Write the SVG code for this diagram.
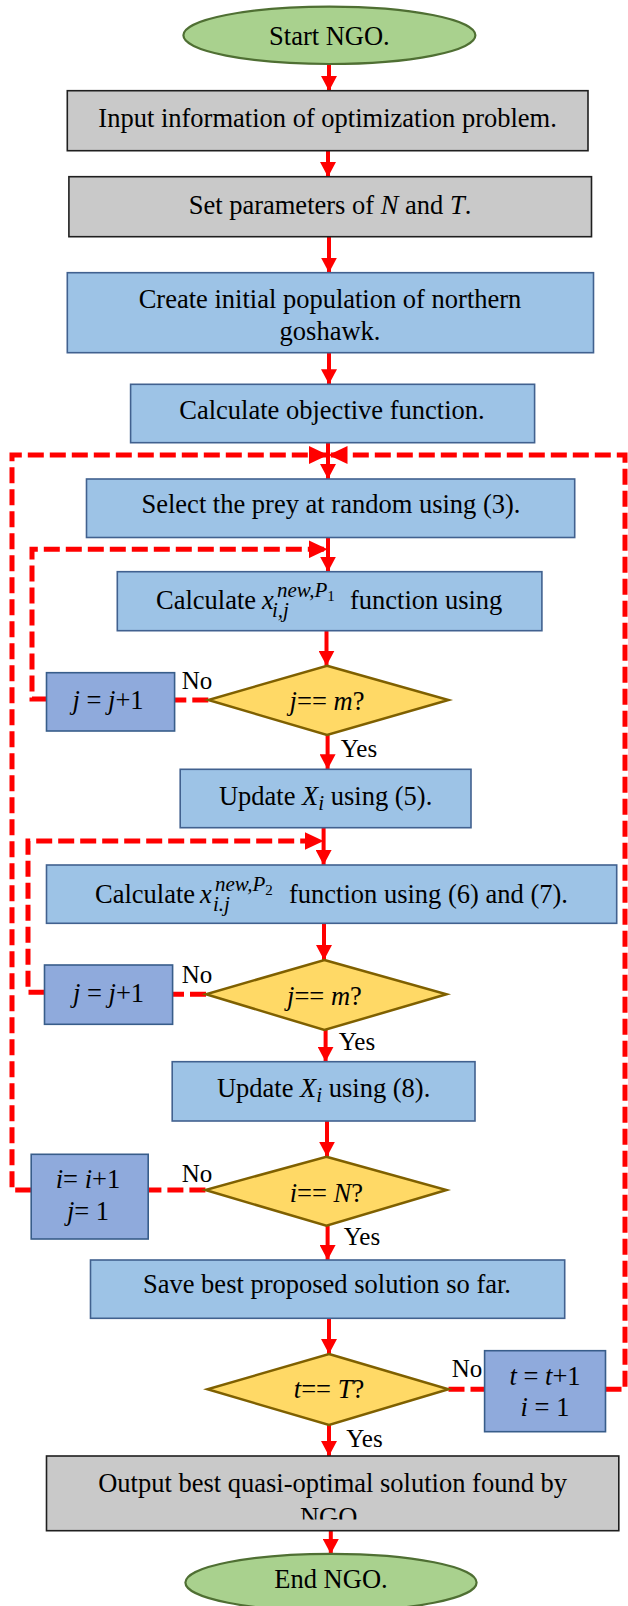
<svg xmlns="http://www.w3.org/2000/svg" width="628" height="1606" viewBox="0 0 628 1606">
<style>
text{font-family:"Liberation Serif","Times New Roman",serif;font-size:26.5px;fill:#000;text-anchor:middle}
.l{text-anchor:start}
.it{font-style:italic}
.sm{font-size:21px}
.lab{font-size:25px}
.gray{fill:#c9c9c9;stroke:#1f1f1f;stroke-width:1.6}
.blue{fill:#9dc3e6;stroke:#41618f;stroke-width:1.6}
.cnt{fill:#8faadc;stroke:#385d8a;stroke-width:1.6}
.dia{fill:#ffd966;stroke:#7f6000;stroke-width:2.5}
.ell{fill:#a9d18e;stroke:#4f6f33;stroke-width:2.2}
.s{fill:none;stroke:#ff0000;stroke-width:4}
.d{fill:none;stroke:#ff0000;stroke-width:5;stroke-dasharray:16 6}
</style>
<defs>
<marker id="ah" markerUnits="userSpaceOnUse" markerWidth="16" markerHeight="16" refX="15" refY="8" orient="auto"><path d="M0,0 L15,8 L0,16 z" fill="#ff0000"/></marker>
<marker id="ahd" markerUnits="userSpaceOnUse" markerWidth="20" markerHeight="18" refX="19" refY="9" orient="auto"><path d="M0,0 L19,9 L0,18 z" fill="#ff0000"/></marker>
<clipPath id="c11"><rect x="46.5" y="1456" width="572" height="63.5"/></clipPath>
</defs>

<g id="connectors">
<line class="s" x1="329" y1="64" x2="329" y2="91" marker-end="url(#ah)"/>
<line class="s" x1="328" y1="151" x2="328" y2="177" marker-end="url(#ah)"/>
<line class="s" x1="329" y1="237" x2="329" y2="272.7" marker-end="url(#ah)"/>
<line class="s" x1="329" y1="353" x2="329" y2="384.3" marker-end="url(#ah)"/>
<line class="s" x1="328" y1="443" x2="328" y2="479" marker-end="url(#ah)"/>
<line class="s" x1="328" y1="537.5" x2="328" y2="571.7" marker-end="url(#ah)"/>
<line class="s" x1="326.5" y1="631" x2="326.5" y2="665.7" marker-end="url(#ah)"/>
<line class="s" x1="327.6" y1="735" x2="327.6" y2="769.3" marker-end="url(#ah)"/>
<line class="s" x1="323.6" y1="828" x2="323.6" y2="865" marker-end="url(#ah)"/>
<line class="s" x1="324" y1="923.3" x2="324" y2="960" marker-end="url(#ah)"/>
<line class="s" x1="325.6" y1="1030" x2="325.6" y2="1061.7" marker-end="url(#ah)"/>
<line class="s" x1="327" y1="1121" x2="327" y2="1156.7" marker-end="url(#ah)"/>
<line class="s" x1="327.6" y1="1225.7" x2="327.6" y2="1260" marker-end="url(#ah)"/>
<line class="s" x1="329" y1="1318.3" x2="329" y2="1354" marker-end="url(#ah)"/>
<line class="s" x1="329" y1="1425" x2="329" y2="1456" marker-end="url(#ah)"/>
<line class="s" x1="330.8" y1="1530.7" x2="330.8" y2="1554" marker-end="url(#ah)"/>

<path class="d" d="M31.2,1190 H12 V455 H328" marker-end="url(#ahd)"/>
<path class="d" d="M605.5,1389.3 H625 V455 H328.5" marker-end="url(#ahd)"/>
<path class="d" d="M208.3,700 H174.6"/>
<path class="d" d="M46.5,699 H32 V549.3 H327.6" marker-end="url(#ahd)"/>
<path class="d" d="M206,994.3 H172.6"/>
<path class="d" d="M44.5,992.3 H28 V841 H323.6" marker-end="url(#ahd)"/>
<path class="d" d="M205.4,1190 H148.2"/>
<path class="d" d="M448.5,1389.3 H484.6"/>

<text class="lab" x="197" y="688.5">No</text>
<text class="lab" x="359" y="756.7">Yes</text>
<text class="lab" x="197" y="982.7">No</text>
<text class="lab" x="357" y="1050">Yes</text>
<text class="lab" x="197" y="1181.7">No</text>
<text class="lab" x="362" y="1245">Yes</text>
<text class="lab" x="467" y="1376.7">No</text>
<text class="lab" x="364.5" y="1446.7">Yes</text>
</g>

<g id="start">
<ellipse class="ell" cx="329.4" cy="35.3" rx="146" ry="28.7"/>
<text x="329.4" y="45">Start NGO.</text>
</g>

<g id="input">
<rect class="gray" x="67.3" y="90.7" width="520.7" height="60"/>
<text x="327.6" y="127">Input information of optimization problem.</text>
</g>

<g id="params">
<rect class="gray" x="68.9" y="176.7" width="522.6" height="60"/>
<text x="330" y="213.5">Set parameters of <tspan class="it">N</tspan> and <tspan class="it">T</tspan>.</text>
</g>

<g id="init">
<rect class="blue" x="67.3" y="272.7" width="526.2" height="80"/>
<text x="330" y="308.3">Create initial population of northern</text>
<text x="330" y="340">goshawk.</text>
</g>

<g id="objective">
<rect class="blue" x="130.6" y="384.3" width="404" height="58.4"/>
<text x="332" y="418.5">Calculate objective function.</text>
</g>

<g id="select">
<rect class="blue" x="86.5" y="479" width="488.2" height="58.5"/>
<text x="331" y="513.3">Select the prey at random using (3).</text>
</g>

<g id="calc1">
<rect class="blue" x="117.3" y="571.7" width="424.6" height="59"/>
<text class="l" x="156" y="609">Calculate <tspan class="it" x="262">x</tspan><tspan class="it sm" x="277" dy="-12">new,P</tspan><tspan font-size="15" dy="4">1</tspan><tspan class="it sm" x="272" y="617">i,j</tspan><tspan x="350" y="609">function using</tspan></text>
</g>

<g id="dec1">
<polygon class="dia" points="327,665.7 448.5,700 327,735 208.3,700"/>
<text x="327" y="710"><tspan class="it">j</tspan>== <tspan class="it">m</tspan>?</text>
</g>

<g id="inc1">
<rect class="cnt" x="46.5" y="672.7" width="128.1" height="58.3"/>
<text x="108" y="708.5"><tspan class="it">j</tspan> = <tspan class="it">j</tspan>+1</text>
</g>

<g id="update1">
<rect class="blue" x="180.2" y="769.3" width="290.8" height="58.4"/>
<text x="325.6" y="805">Update <tspan class="it">X</tspan><tspan class="it sm" dy="5">i</tspan><tspan dy="-5"> using (5).</tspan></text>
</g>

<g id="calc2">
<rect class="blue" x="46.5" y="865" width="570.2" height="58.3"/>
<text class="l" x="95" y="903">Calculate <tspan class="it" x="200">x</tspan><tspan class="it sm" x="215" dy="-12">new,P</tspan><tspan font-size="15" dy="4">2</tspan><tspan class="it sm" x="213" y="911">i.j</tspan><tspan x="289" y="903">function using (6) and (7).</tspan></text>
</g>

<g id="dec2">
<polygon class="dia" points="324.4,960 446.5,994.3 324.4,1030 206,994.3"/>
<text x="324.4" y="1005"><tspan class="it">j</tspan>== <tspan class="it">m</tspan>?</text>
</g>

<g id="inc2">
<rect class="cnt" x="44.5" y="965" width="128.1" height="59.3"/>
<text x="108.5" y="1001.7"><tspan class="it">j</tspan> = <tspan class="it">j</tspan>+1</text>
</g>

<g id="update2">
<rect class="blue" x="172.2" y="1061.7" width="302.8" height="59.3"/>
<text x="323.6" y="1096.7">Update <tspan class="it">X</tspan><tspan class="it sm" dy="5">i</tspan><tspan dy="-5"> using (8).</tspan></text>
</g>

<g id="dec3">
<polygon class="dia" points="326.4,1156.7 446.5,1190 326.4,1225.7 205.4,1190"/>
<text x="326.4" y="1201.7"><tspan class="it">i</tspan>== <tspan class="it">N</tspan>?</text>
</g>

<g id="inc3">
<rect class="cnt" x="31.2" y="1154.3" width="117" height="84.7"/>
<text x="88" y="1188.3"><tspan class="it">i</tspan>= <tspan class="it">i</tspan>+1</text>
<text x="88" y="1220"><tspan class="it">j</tspan>= 1</text>
</g>

<g id="save">
<rect class="blue" x="90.5" y="1260" width="474.2" height="58.3"/>
<text x="327" y="1293.3">Save best proposed solution so far.</text>
</g>

<g id="dec4">
<polygon class="dia" points="329,1354 448.5,1389.3 329,1425 207.5,1389.3"/>
<text x="329" y="1398.3"><tspan class="it">t</tspan>== <tspan class="it">T</tspan>?</text>
</g>

<g id="inc4">
<rect class="cnt" x="484.6" y="1350.7" width="120.9" height="81"/>
<text x="545" y="1385"><tspan class="it">t</tspan> = <tspan class="it">t</tspan>+1</text>
<text x="545" y="1416"><tspan class="it">i</tspan> = 1</text>
</g>

<g id="output">
<rect class="gray" x="46.5" y="1456" width="572.3" height="74.7"/>
<text x="332.6" y="1491.7">Output best quasi-optimal solution found by</text>
<text x="332" y="1526" clip-path="url(#c11)">NGO.</text>
</g>

<g id="end">
<ellipse class="ell" cx="331" cy="1582.5" rx="145.6" ry="28.7"/>
<text x="331" y="1588.3">End NGO.</text>
</g>
</svg>
